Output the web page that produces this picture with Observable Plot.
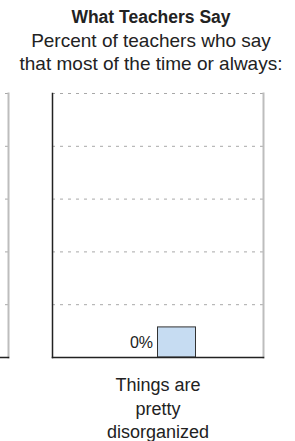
<!DOCTYPE html>
<html>
<head>
<meta charset="utf-8">
<script src="https://cdn.jsdelivr.net/npm/d3@7"></script>
<script src="https://cdn.jsdelivr.net/npm/@observablehq/plot@0.6"></script>
<style>
  html, body { margin: 0; padding: 0; background: #fff; }
  #wrap { position: relative; width: 295px; height: 441px; overflow: hidden; font-family: "Liberation Sans", Arial, sans-serif; color: #222; }
  #title { position: absolute; left: 7px; right: 0; top: 6px; text-align: center; font-weight: bold; font-size: 17.5px; line-height: 23px; }
  #subtitle { position: absolute; left: 7px; right: 0; top: 29px; text-align: center; font-size: 19px; line-height: 23px; white-space: nowrap; }
  #chart { position: absolute; left: -203px; top: 0; }
</style>
</head>
<body>
<div id="wrap">
  <div id="chart"></div>
  <div id="title">What Teachers Say</div>
  <div id="subtitle">Percent of teachers who say<br>that most of the time or always:</div>
</div>
<script>
// Panels (the first one is only partly visible at the left edge of the reference)
const panels = ["(previous panel)", "Things are\npretty\ndisorganized"];
// Bars
const barPanels = ["Things are\npretty\ndisorganized"];
const barLabels = ["0%"];
// The reference draws a small minimum-height bar for the 0% value
const barHeights = [11.4];
// Y gridline ticks (percent)
const gridTicks = [20, 40, 60, 80, 100];

const bars = barPanels.map((p, i) => ({panel: p, label: barLabels[i], shown: barHeights[i]}));
const grid = panels.flatMap(p => gridTicks.map(t => ({panel: p, tick: t})));

const chart = Plot.plot({
  width: 498,
  height: 441,
  marginTop: 93,
  marginBottom: 84,
  marginLeft: 0,
  marginRight: 32,
  style: {fontFamily: '"Liberation Sans", Arial, sans-serif', color: "#222", background: "transparent"},
  fx: {domain: panels, paddingInner: 44 / 255, paddingOuter: 0, axis: null},
  y: {domain: [0, 100], axis: null},
  marks: [
    Plot.gridY(grid, {fx: "panel", y: "tick", stroke: "#a8a8a8", strokeOpacity: 1, strokeWidth: 1, strokeDasharray: "3,5"}),
    Plot.frame({anchor: "right", stroke: "#bdbdbd", strokeWidth: 2}),
    Plot.frame({anchor: "left", stroke: "#222", strokeWidth: 1.5}),
    Plot.rectY(bars, {fx: "panel", y: "shown", fill: "#c6dcf2", stroke: "#333", strokeWidth: 1, insetLeft: 105.5, insetRight: 67.5}),
    Plot.frame({anchor: "bottom", stroke: "#222", strokeWidth: 1.5}),
    Plot.text(bars, {fx: "panel", y: d => d.shown / 2, text: "label", frameAnchor: "middle", textAnchor: "end", dx: -5, fontSize: 16, fill: "#222"}),
    Plot.axisFx({anchor: "bottom", tickSize: 0, tickPadding: 17, fontSize: 18, lineHeight: 1.3, fill: "#222",
      tickFormat: d => d === panels[0] ? "" : d, label: null})
  ]
});
document.getElementById("chart").append(chart);
</script>
</body>
</html>
